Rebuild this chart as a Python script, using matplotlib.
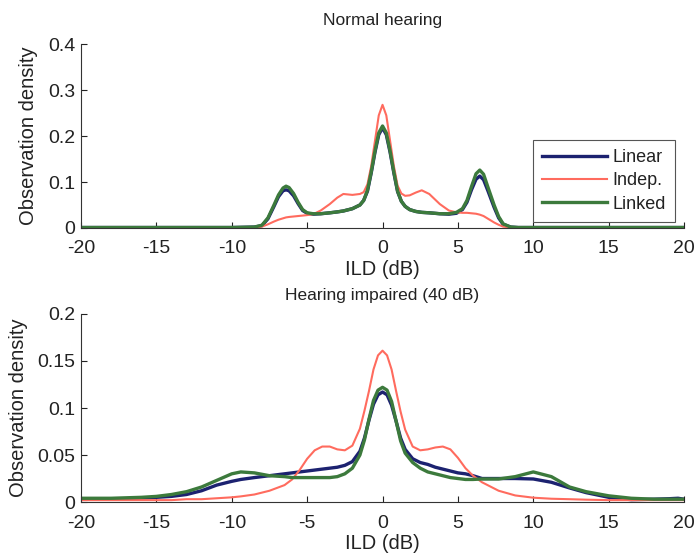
#Recreacion de las densidades de ILD (normal / hipoacusia)
import matplotlib
matplotlib.use('Agg')
import matplotlib.pyplot as plt

plt.rcParams['font.family'] = ['Liberation Sans', 'DejaVu Sans']
plt.rcParams['axes.unicode_minus'] = False
plt.rcParams['text.color'] = '#222222'
plt.rcParams['axes.labelcolor'] = '#222222'
plt.rcParams['xtick.color'] = '#222222'
plt.rcParams['ytick.color'] = '#222222'

#Datos panel superior (Normal hearing)
x_norm = [-20, -10, -8.5, -8, -7.6, -7.2, -6.9, -6.6, -6.4, -6.2,
          -5.9, -5.6, -5.3, -5, -4.6, -4.1, -3.5, -3, -2.6, -2,
          -1.5, -1.25, -1, -0.75, -0.5, -0.25, 0, 0.25, 0.5, 0.75,
          1, 1.25, 1.5, 1.8, 2.2, 2.6, 3.1, 3.8, 4.4, 4.9,
          5.3, 5.6, 5.9, 6.2, 6.45, 6.7, 7.0, 7.4, 7.7, 8.0,
          8.5, 9, 10, 20]
lin_norm = [.001, .001, .002, .005, .020, .047, .068, .081, .083, .081,
            .070, .053, .038, .032, .030, .031, .033, .035, .037, .042,
            .050, .060, .080, .120, .165, .203, .218, .203, .165, .120,
            .079, .058, .047, .040, .036, .034, .033, .031, .030, .032,
            .040, .056, .083, .106, .113, .105, .080, .045, .022, .008,
            .002, .001, .001, .001]
ind_norm = [.001, .001, .001, .003, .008, .014, .018, .021, .023, .024,
            .025, .026, .027, .028, .030, .038, .052, .066, .074, .072,
            .074, .078, .095, .135, .190, .245, .268, .245, .190, .135,
            .092, .075, .070, .071, .077, .082, .074, .052, .038, .034,
            .033, .033, .032, .031, .029, .026, .020, .012, .007, .003,
            .001, .001, .001, .001]
lkd_norm = [.001, .001, .002, .006, .022, .050, .072, .087, .091, .088,
            .075, .056, .040, .033, .031, .031, .033, .035, .037, .042,
            .050, .060, .082, .122, .168, .207, .222, .207, .168, .122,
            .080, .058, .047, .040, .036, .034, .033, .031, .031, .034,
            .042, .060, .090, .118, .126, .117, .088, .050, .025, .009,
            .002, .001, .001, .001]

#Datos panel inferior (Hearing impaired 40 dB)
x_hi = [-20, -18, -16, -15, -14, -13, -12, -11, -10, -9.4,
        -8.5, -7.5, -6.5, -6, -5.5, -5, -4.5, -4, -3.5, -3,
        -2.5, -2, -1.5, -1.2, -0.9, -0.6, -0.3, 0, 0.3, 0.6,
        0.9, 1.2, 1.5, 2, 2.5, 3, 3.5, 4, 4.5, 5,
        5.5, 6, 6.6, 7.7, 8.8, 10, 11.2, 12.4, 13.5, 15,
        16.5, 18, 19, 19.6, 20]
lin_hi = [.003, .003, .004, .005, .006, .008, .012, .018, .022, .024,
          .026, .028, .030, .031, .032, .033, .034, .035, .036, .037,
          .039, .043, .054, .068, .087, .104, .114, .117, .114, .103,
          .086, .068, .056, .046, .042, .040, .037, .035, .033, .031,
          .030, .028, .025, .025, .025, .0245, .021, .015, .010, .005,
          .0025, .003, .0035, .004, .003]
ind_hi = [.002, .002, .002, .002, .002, .003, .003, .004, .005, .006,
          .008, .012, .018, .024, .034, .046, .055, .059, .059, .056,
          .055, .060, .078, .097, .118, .141, .156, .161, .156, .141,
          .118, .096, .077, .059, .055, .056, .058, .059, .056, .047,
          .036, .028, .021, .012, .007, .0046, .0035, .003, .0025, .002,
          .002, .002, .002, .002, .002]
lkd_hi = [.004, .004, .005, .006, .008, .011, .016, .023, .030, .032,
          .031, .028, .027, .026, .026, .026, .026, .026, .026, .027,
          .030, .036, .050, .066, .088, .108, .119, .122, .119, .107,
          .086, .065, .052, .042, .036, .032, .030, .028, .026, .025,
          .024, .024, .0245, .0245, .027, .032, .027, .016, .011, .0066,
          .004, .003, .003, .003, .003]

c_lin = '#1c2270'
c_ind = '#ff6b5e'
c_lkd = '#3c7a3c'

def estilo(ax, ymax, yt, ytl):
    ax.set_xlim(-20, 20)
    ax.set_ylim(0, ymax)
    ax.set_xticks(range(-20, 21, 5))
    ax.set_yticks(yt)
    ax.set_yticklabels(ytl)
    ax.spines['top'].set_visible(False)
    ax.spines['right'].set_visible(False)
    ax.spines['left'].set_color('#333333')
    ax.spines['bottom'].set_color('#333333')
    ax.tick_params(direction='in', length=4, width=0.8, labelsize=14)
    ax.tick_params(axis='x', pad=9)
    ax.tick_params(axis='y', pad=4)
    ax.set_xlabel('ILD (dB)', fontsize=14.5, labelpad=2)
    ax.set_ylabel('Observation density', fontsize=14.5, labelpad=7)

f = plt.figure(figsize=(6.94, 5.57), dpi=100)

ax1 = f.add_axes([0.1167, 0.5907, 0.869, 0.330])
ax1.plot(x_norm, lin_norm, color=c_lin, lw=2.4, label='Linear')
ax1.plot(x_norm, ind_norm, color=c_ind, lw=1.5, label='Indep.')
ax1.plot(x_norm, lkd_norm, color=c_lkd, lw=2.4, label='Linked')
estilo(ax1, 0.4, [0, 0.1, 0.2, 0.3, 0.4], ['0', '0.1', '0.2', '0.3', '0.4'])
ax1.set_title('Normal hearing', fontsize=12.5, pad=14)
leg = ax1.legend(loc='lower right', bbox_to_anchor=(0.985, 0.035), fontsize=13,
                 handlelength=3.6, labelspacing=0.35, borderpad=0.5, fancybox=False,
                 framealpha=1, edgecolor='#555555', handletextpad=0.3, borderaxespad=0)
leg.get_frame().set_linewidth(0.8)

ax2 = f.add_axes([0.1167, 0.0987, 0.869, 0.3376])
ax2.plot(x_hi, lin_hi, color=c_lin, lw=2.4)
ax2.plot(x_hi, ind_hi, color=c_ind, lw=1.5)
ax2.plot(x_hi, lkd_hi, color=c_lkd, lw=2.4)
estilo(ax2, 0.2, [0, 0.05, 0.1, 0.15, 0.2], ['0', '0.05', '0.1', '0.15', '0.2'])
ax2.set_title('Hearing impaired (40 dB)', fontsize=12.5, pad=10)

plt.savefig('out.png', dpi=100)
